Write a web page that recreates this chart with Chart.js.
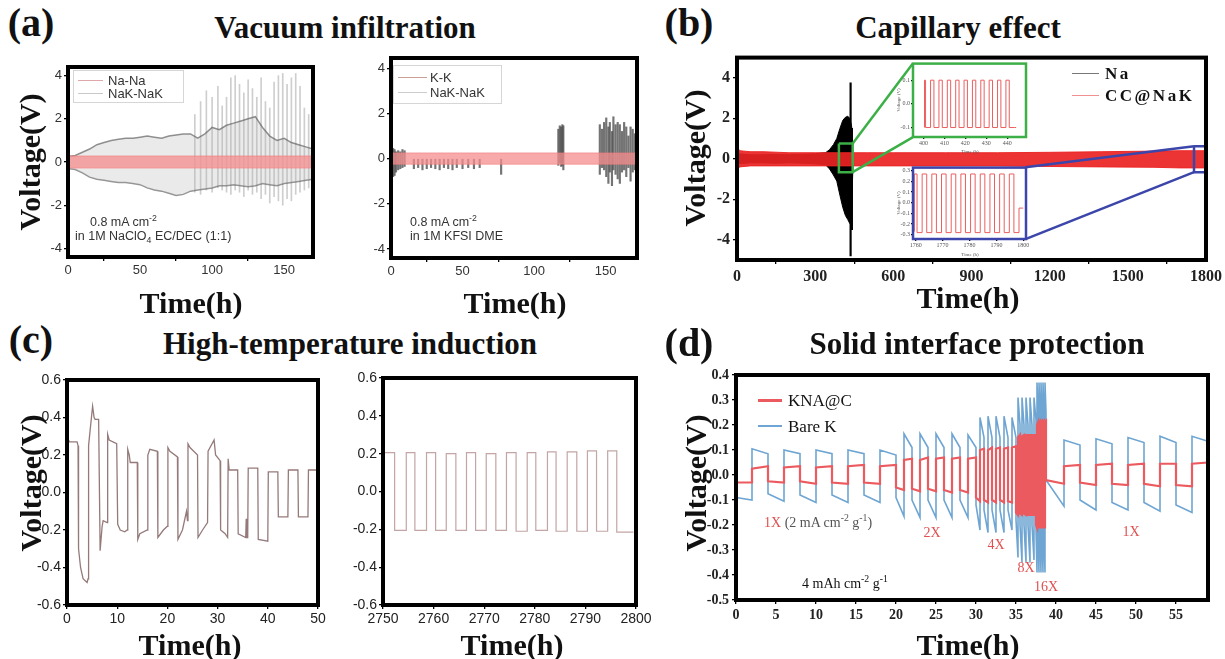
<!DOCTYPE html>
<html>
<head>
<meta charset="utf-8">
<title>Voltage profiles</title>
<script src="https://cdn.jsdelivr.net/npm/chart.js@4.4.1/dist/chart.umd.min.js"></script>
<style>
  body { margin:0; background:#fff; }
  #page { position:relative; width:1225px; height:659px; overflow:hidden; background:#fff;
          font-family:"Liberation Serif","Times New Roman",serif; color:#111; }
  canvas { position:absolute; }
  .t { position:absolute; white-space:nowrap; line-height:1; }
  .c { transform:translate(-50%,-50%); }
  .l { transform:translateY(-50%); }
  .rot { transform:translate(-50%,-50%) rotate(-90deg); }
  .panel { font-weight:bold; font-size:40px; }
  .head { font-weight:bold; font-size:31px; }
  .axt { font-weight:bold; font-size:30px; }
  .sans { font-family:"Liberation Sans",Arial,sans-serif; color:#333; }
  .box { position:absolute; border:1px solid #d6d6d6; }
  .ln { position:absolute; height:0; }
  .red { color:#e05050; }
  sup, sub { font-size:70%; line-height:0; }
</style>
</head>
<body>
<div id="page">
  <canvas id="ca1"></canvas>
  <canvas id="ca2"></canvas>
  <canvas id="cb"></canvas>
  <canvas id="cc1"></canvas>
  <canvas id="cc2"></canvas>
  <canvas id="cd"></canvas>
  <canvas id="cbg"></canvas>
  <canvas id="cbb"></canvas>

  <div class="t c panel" style="left:31px;top:23px">(a)</div>
  <div class="t c head" style="left:345px;top:27px">Vacuum infiltration</div>
  <div class="t c panel" style="left:689px;top:23px">(b)</div>
  <div class="t c head" style="left:958px;top:27px">Capillary effect</div>
  <div class="t c panel" style="left:31px;top:340px">(c)</div>
  <div class="t c head" style="left:350px;top:343px">High-temperature induction</div>
  <div class="t c panel" style="left:689px;top:343px">(d)</div>
  <div class="t c head" style="left:977px;top:343px">Solid interface protection</div>

  <div class="t rot axt" style="left:30px;top:162px">Voltage(V)</div>
  <div class="t rot axt" style="left:695px;top:158px">Voltage(V)</div>
  <div class="t rot axt" style="left:31px;top:483px">Voltage(V)</div>
  <div class="t rot axt" style="left:696px;top:483px">Voltage(V)</div>
  <div class="t c axt" style="left:191px;top:303px">Time(h)</div>
  <div class="t c axt" style="left:515px;top:303px">Time(h)</div>
  <div class="t c axt" style="left:968px;top:298px">Time(h)</div>
  <div class="t c axt" style="left:190px;top:645px">Time(h)</div>
  <div class="t c axt" style="left:512px;top:645px">Time(h)</div>
  <div class="t c axt" style="left:968px;top:645px">Time(h)</div>

  <!-- (a) legends and notes -->
  <div class="box" style="left:73px;top:70px;width:109px;height:31px"></div>
  <div class="ln" style="left:78px;top:80px;width:25px;border-top:1px solid #e0a8a8"></div>
  <div class="ln" style="left:78px;top:93px;width:25px;border-top:1px solid #c8c8c8"></div>
  <div class="t l sans" style="left:108px;top:80px;font-size:13px">Na-Na</div>
  <div class="t l sans" style="left:108px;top:93px;font-size:13px">NaK-NaK</div>
  <div class="t l sans" style="left:90px;top:222px;font-size:12.5px">0.8 mA cm<sup>-2</sup></div>
  <div class="t l sans" style="left:75px;top:236px;font-size:12.5px">in 1M NaClO<sub>4</sub> EC/DEC (1:1)</div>

  <div class="box" style="left:393px;top:65px;width:107px;height:37px"></div>
  <div class="ln" style="left:398px;top:77px;width:29px;border-top:1px solid #c8a098"></div>
  <div class="ln" style="left:398px;top:92px;width:29px;border-top:1px solid #cccccc"></div>
  <div class="t l sans" style="left:430px;top:77px;font-size:13px">K-K</div>
  <div class="t l sans" style="left:430px;top:92px;font-size:13px">NaK-NaK</div>
  <div class="t l sans" style="left:410px;top:222px;font-size:12.5px">0.8 mA cm<sup>-2</sup></div>
  <div class="t l sans" style="left:410px;top:236px;font-size:12.5px">in 1M KFSI DME</div>

  <!-- (b) legend and inset labels -->
  <div class="ln" style="left:1072px;top:73px;width:27px;border-top:1px solid #777"></div>
  <div class="ln" style="left:1072px;top:95px;width:27px;border-top:1px solid #f09090"></div>
  <div class="t l" style="left:1105px;top:73px;font-size:17px;font-weight:bold;letter-spacing:2.5px">Na</div>
  <div class="t l" style="left:1105px;top:95px;font-size:17px;font-weight:bold;letter-spacing:2.5px">CC@NaK</div>
  <div class="t rot" style="left:898px;top:100px;font-size:5px;color:#555">Voltage (V)</div>
  <div class="t c" style="left:970px;top:151px;font-size:5px;color:#555">Time (h)</div>
  <div class="t rot" style="left:898px;top:203px;font-size:5px;color:#555">Voltage (V)</div>
  <div class="t c" style="left:970px;top:254px;font-size:5px;color:#555">Time (h)</div>

  <!-- (d) legend and notes -->
  <div class="ln" style="left:758px;top:399px;width:24px;border-top:3px solid rgb(235,90,95)"></div>
  <div class="ln" style="left:758px;top:425px;width:24px;border-top:2px solid rgb(110,165,210)"></div>
  <div class="t l" style="left:788px;top:400px;font-size:17px">KNA@C</div>
  <div class="t l" style="left:788px;top:426px;font-size:17px">Bare K</div>
  <div class="t l" style="left:764px;top:523px;font-size:14px;color:#555"><span class="red">1X</span> (2 mA cm<sup>-2</sup> g<sup>-1</sup>)</div>
  <div class="t c red" style="left:932px;top:533px;font-size:14px">2X</div>
  <div class="t c red" style="left:996px;top:545px;font-size:14px">4X</div>
  <div class="t c red" style="left:1026px;top:568px;font-size:14px">8X</div>
  <div class="t c red" style="left:1046px;top:587px;font-size:14px">16X</div>
  <div class="t c red" style="left:1131px;top:532px;font-size:14px">1X</div>
  <div class="t l" style="left:802px;top:584px;font-size:14px">4 mAh cm<sup>-2</sup> g<sup>-1</sup></div>
</div>

<script>
// ---------- (a) vacuum infiltration ----------
const aTimes = [0,5,10,15,20,25,30,35,40,45,50,55,60,65,70,75,80,85,90,95,100,105,110,115,120,125,130,135,140,145,150,155,160,165,170];
const aNaUpper = [0.25,0.3,0.45,0.6,0.8,0.9,1.0,1.05,1.1,1.1,1.15,1.2,1.15,1.1,1.2,1.25,1.3,1.3,1.1,1.3,1.6,1.5,1.7,1.8,1.9,2.0,2.1,1.6,1.2,1.0,1.1,0.9,0.8,0.7,0.6];
const aNaLower = [-0.3,-0.35,-0.5,-0.7,-0.8,-0.85,-0.9,-0.95,-0.95,-1.0,-1.05,-1.2,-1.3,-1.35,-1.45,-1.55,-1.5,-1.35,-1.3,-1.25,-1.2,-1.1,-1.1,-1.05,-1.1,-1.15,-1.1,-1.0,-1.05,-1.1,-1.0,-0.95,-0.9,-0.85,-0.8];
const aNaSpikeT = [88,92,96,100,104,107,110,113,116,119,122,125,128,131,134,137,140,143,146,149,152,155,158,161,164,167];
const aNaSpikeHi = [2.2,2.8,3.3,3.0,3.5,2.6,3.0,3.9,4.0,3.6,3.2,3.8,3.4,3.0,3.9,2.8,2.5,3.7,4.0,4.1,3.6,3.9,4.1,3.5,2.5,2.2];
const aNaSpikeLo = [-1.4,-1.5,-1.3,-1.4,-1.2,-1.3,-1.4,-1.5,-1.3,-1.4,-1.6,-1.3,-1.5,-1.4,-1.7,-1.5,-1.9,-1.6,-1.8,-2.0,-1.7,-1.8,-1.5,-1.4,-1.3,-1.2];
const aNaKTimes = [0, 170];
const aNaKUpper = [0.28, 0.28];
const aNaKLower = [-0.28, -0.28];

const aKSpikeT = [0.5,1.5,2.5,3.5,5,6.5,8,9.5,16,19,22,25,28,31,34,37,40,43,46,50,54,58,62,77,117,118,119,119.8,120.5,146,147.5,149,150.5,152,153,154.5,155.5,157,158.5,160,161.5,163,164.5,166,167.5,169,170.5];
const aKSpikeHi = [0.3,0.45,0.4,0.3,0.35,0.3,0.4,0.35,0,0,0,0,0,0,0,0,0,0,0,0,0,0,0,0,1.3,1.45,1.4,1.5,1.45,1.5,1.3,1.6,1.8,1.4,1.6,1.2,1.85,1.5,1.6,1.5,1.2,1.6,1.4,1.0,1.4,1.3,1.1];
const aKSpikeLo = [-0.6,-0.8,-0.75,-0.6,-0.5,-0.45,-0.4,-0.35,-0.45,-0.4,-0.5,-0.45,-0.4,-0.45,-0.5,-0.4,-0.45,-0.5,-0.4,-0.45,-0.4,-0.45,-0.4,-0.7,-0.3,-0.2,-0.35,-0.3,-0.5,-0.7,-0.4,-0.5,-0.8,-1.1,-0.6,-1.2,-0.5,-0.7,-0.9,-1.1,-0.6,-0.5,-0.8,-0.4,-1.0,-0.6,-0.5];
const aKNaKTimes = [0, 172];
const aKNaKUpper = [0.25, 0.25];
const aKNaKLower = [-0.25, -0.25];

const aXTicks = [0, 50, 100, 150];
const aYTicks = [-4, -2, 0, 2, 4];

// ---------- (b) capillary effect ----------
const bNaTimes = [0,50,100,150,200,250,300,340,355,370,383,395,406,416,425,433,440,445];
const bNaUpper = [0.25,0.2,0.2,0.22,0.2,0.22,0.25,0.3,0.45,0.7,1.0,1.5,1.9,2.05,2.1,2.0,1.6,0.3];
const bNaLower = [-0.25,-0.2,-0.2,-0.22,-0.2,-0.22,-0.25,-0.3,-0.5,-0.8,-1.1,-1.8,-2.4,-2.8,-3.0,-3.2,-2.6,-0.3];
const bNaSpikeT = [436, 441];
const bNaSpikeHi = [3.75, 1.5];
const bNaSpikeLo = [-4.8, -3.5];
const bCCTimes = [0,10,50,100,200,300,400,500,600,800,1000,1200,1400,1600,1700,1800];
const bCCUpper = [0.6,0.4,0.35,0.35,0.3,0.3,0.3,0.3,0.3,0.3,0.3,0.32,0.35,0.38,0.4,0.4];
const bCCLower = [-0.55,-0.4,-0.35,-0.35,-0.35,-0.35,-0.35,-0.35,-0.35,-0.35,-0.35,-0.38,-0.4,-0.42,-0.45,-0.45];
// zoom boxes and guide lines, in data units of the main plot
const bGreenRect = [[391,0.76],[444,0.76],[444,-0.66],[391,-0.66],[391,0.76]];
const bGreenLinkA = [[444,0.76],[674,4.7]];
const bGreenLinkB = [[444,-0.66],[674,1.06]];
const bBlueRect = [[1754,0.62],[1797,0.62],[1797,-0.66],[1754,-0.66],[1754,0.62]];
const bBlueLinkA = [[1754,0.62],[1107,-0.42]];
const bBlueLinkB = [[1754,-0.66],[1107,-3.97]];
// insets
const bGreenT = [400.5,401,403.4,405,407.4,409,411.4,413,415.4,417,419.4,421,423.4,425,427.4,429,431.4,433,435.4,437,439.4,441,443.4,444.3];
const bGreenV = [-0.1,0.1,-0.1,0.1,-0.1,0.1,-0.1,0.1,-0.1,0.1,-0.1,0.1,-0.1,0.1,-0.1,0.1,-0.1,0.1,-0.1,0.1,-0.1,0.1,-0.1,-0.1];
const bBlueT = [1759.5,1760.5,1762.4,1764.1,1766.0,1767.7,1769.6,1771.3,1773.2,1774.9,1776.8,1778.5,1780.4,1782.1,1784.0,1785.7,1787.6,1789.3,1791.2,1792.9,1794.8,1796.5,1798.4,1799.6,1800];
const bBlueV = [-0.27,0.27,-0.28,0.27,-0.28,0.27,-0.28,0.27,-0.28,0.27,-0.28,0.27,-0.28,0.27,-0.28,0.27,-0.28,0.27,-0.28,0.27,-0.28,0.27,-0.28,-0.05,-0.05];

const bXTicks = [0, 300, 600, 900, 1200, 1500, 1800];
const bYTicks = [-4, -2, 0, 2, 4];
const bGreenXTicks = [400, 410, 420, 430, 440];
const bGreenYTicks = [-0.1, 0, 0.1];
const bBlueXTicks = [1760, 1770, 1780, 1790, 1800];
const bBlueYTicks = [-0.3, -0.2, -0.1, 0, 0.1, 0.2, 0.3];

// ---------- (c) high-temperature induction ----------
const cLeftT = [0,0.3,0.5,2.0,2.2,2.3,2.7,3.2,4.0,4.2,4.3,4.6,5.1,5.4,5.6,6.3,6.6,7.0,7.2,8.0,8.1,8.4,9.9,10.1,10.6,11.5,12.0,12.1,12.4,12.6,14.0,14.1,14.5,16.0,16.1,16.5,18.0,18.1,19.2,20.0,20.1,20.5,22.0,22.1,23.0,23.8,24.0,24.1,24.5,26.0,26.1,27.0,28.0,28.1,29.3,29.6,30.5,30.6,31.5,32.0,32.1,32.3,34.0,34.1,35.6,35.7,35.8,36.0,36.1,38.0,38.1,40.0,40.1,42.0,42.1,44.0,44.1,46.0,46.1,48.0,48.1,49.6];
const cLeftV = [0.35,0.28,0.27,0.27,0.25,-0.3,-0.4,-0.46,-0.48,-0.46,0.25,0.33,0.46,0.4,0.39,0.39,-0.31,-0.18,-0.15,-0.16,0.31,0.28,0.26,-0.17,-0.2,-0.21,-0.2,0.23,0.2,0.16,0.16,-0.25,-0.22,-0.2,0.2,0.23,0.22,-0.24,-0.2,-0.18,0.24,0.22,0.19,-0.25,-0.2,-0.1,-0.15,0.26,0.24,0.2,-0.24,-0.2,-0.16,0.22,0.28,0.2,0.17,-0.2,-0.22,-0.24,0.18,0.12,0.12,-0.22,-0.24,-0.14,-0.24,-0.24,0.13,0.13,-0.25,-0.26,0.11,0.11,-0.13,-0.13,0.12,0.12,-0.13,-0.13,0.12,0.12];
const cRightT = [2750,2752.3,2754.6,2756.3,2758.6,2760.4,2762.5,2764.4,2766.5,2768.3,2770.4,2772.3,2774.4,2776.3,2778.5,2780.2,2782.5,2784.2,2786.4,2788.3,2790.4,2792.2,2794.4,2796.2,2798.2,2799.5];
const cRightV = [-0.205,0.205,-0.205,0.205,-0.205,0.205,-0.205,0.2,-0.205,0.205,-0.205,0.2,-0.205,0.205,-0.21,0.205,-0.205,0.21,-0.21,0.21,-0.21,0.215,-0.21,0.215,-0.215,-0.215];
const cLeftXTicks = [0, 10, 20, 30, 40, 50];
const cRightXTicks = [2750, 2760, 2770, 2780, 2790, 2800];
const cYTicks = [-0.6, -0.4, -0.2, 0, 0.2, 0.4, 0.6];

// ---------- (d) solid interface protection ----------
// half-cycle boundaries: 1X, 2X, 4X, 8X, 16X, then 1X again
const dBounds = [0,2,4,6,8,10,12,14,16,18,20, 21,22,23,24,25,26,27,28,29,30,
  30.5,31,31.5,32,32.5,33,33.5,34,34.5,35, 35.25,35.5,35.75,36,36.25,36.5,36.75,37,37.25,37.5,
  37.625,37.75,37.875,38,38.125,38.25,38.375,38.5,38.625,38.75, 41,43,45,47,49,51,53,55,57,59];
const dRedStart = [-0.03,0.025,-0.025,0.03,-0.025,0.03,-0.03,0.035,-0.03,0.035,
  -0.05,0.06,-0.055,0.06,-0.055,0.065,-0.06,0.065,-0.06,0.065,
  -0.09,0.1,-0.1,0.1,-0.1,0.105,-0.1,0.105,-0.105,0.11,
  -0.15,0.15,-0.155,0.155,-0.155,0.16,-0.16,0.16,-0.16,0.16,
  -0.2,0.2,-0.21,0.21,-0.21,0.21,-0.21,0.21,-0.21,0.21,
  -0.02,0.035,-0.03,0.04,-0.035,0.04,-0.035,0.045,-0.04,0.045];
const dRedEnd = [-0.03,0.035,-0.03,0.035,-0.035,0.035,-0.035,0.04,-0.035,0.04,
  -0.06,0.065,-0.065,0.07,-0.065,0.07,-0.07,0.07,-0.07,0.07,
  -0.105,0.105,-0.11,0.11,-0.11,0.11,-0.11,0.11,-0.11,0.115,
  -0.16,0.16,-0.16,0.16,-0.16,0.16,-0.16,0.16,-0.16,0.16,
  -0.21,0.21,-0.21,0.215,-0.21,0.215,-0.21,0.215,-0.21,0.215,
  -0.035,0.04,-0.04,0.045,-0.04,0.045,-0.045,0.045,-0.045,0.05];
const dBlueStart = [-0.09,0.105,-0.075,0.1,-0.08,0.1,-0.08,0.1,-0.08,0.1,
  -0.09,0.165,-0.1,0.165,-0.1,0.165,-0.1,0.165,-0.1,0.16,
  -0.12,0.23,-0.14,0.235,-0.14,0.235,-0.14,0.235,-0.14,0.23,
  -0.18,0.31,-0.2,0.31,-0.2,0.31,-0.2,0.31,-0.2,0.31,
  -0.22,0.37,-0.25,0.37,-0.25,0.37,-0.25,0.37,-0.25,0.37,
  -0.02,0.14,-0.1,0.145,-0.11,0.15,-0.11,0.155,-0.12,0.155];
const dBlueEnd = [-0.1,0.085,-0.105,0.085,-0.11,0.085,-0.11,0.085,-0.11,0.08,
  -0.165,0.11,-0.17,0.11,-0.17,0.11,-0.17,0.11,-0.17,0.11,
  -0.22,0.15,-0.23,0.15,-0.23,0.15,-0.23,0.15,-0.22,0.15,
  -0.33,0.2,-0.35,0.2,-0.35,0.2,-0.35,0.2,-0.34,0.22,
  -0.39,0.25,-0.39,0.25,-0.39,0.25,-0.39,0.25,-0.39,0.25,
  -0.125,0.12,-0.14,0.125,-0.14,0.13,-0.145,0.13,-0.15,0.135];
const dXTicks = [0,5,10,15,20,25,30,35,40,45,50,55];
const dYTicks = [-0.5,-0.4,-0.3,-0.2,-0.1,0,0.1,0.2,0.3,0.4];

// ---------- helpers ----------
function pts(xs, ys) { return xs.map((x, i) => ({ x: x, y: ys[i] })); }
function pairs(list) { return list.map(p => ({ x: p[0], y: p[1] })); }
function spikes(xs, lo, hi) { return xs.map((x, i) => ({ x: x, y: [lo[i], hi[i]] })); }
function halves(bounds, start, end) {
  let out = [];
  start.forEach((v, i) => {
    out.push({ x: bounds[i], y: v });
    out.push({ x: bounds[i + 1], y: end[i] });
  });
  return out;
}
function band(xs, up, lo, fillColor, lineColor, lw) {
  return [
    { data: pts(xs, up), fill: '+1', backgroundColor: fillColor, borderColor: lineColor, borderWidth: lw },
    { data: pts(xs, lo), fill: false, borderColor: lineColor, borderWidth: lw }
  ];
}
function trace(data, color, lw, stepped) {
  return { data: data, borderColor: color, borderWidth: lw, fill: false, stepped: stepped || false };
}
function bars(data, color, w) {
  return { type: 'bar', data: data, backgroundColor: color, barThickness: w, grouped: false };
}

const frame = {
  id: 'frame',
  afterDatasetsDraw(chart, args, opts) {
    const a = chart.chartArea, ctx = chart.ctx;
    ctx.save();
    ctx.lineWidth = opts.width;
    ctx.strokeStyle = opts.color;
    ctx.strokeRect(a.left, a.top, a.right - a.left, a.bottom - a.top);
    ctx.restore();
  }
};

function axis(min, max, ticks, st, fmt, fit) {
  return {
    type: 'linear', min: min, max: max, offset: false,
    afterBuildTicks: s => { s.ticks = ticks.map(v => ({ value: v })); },
    afterFit: fit,
    grid: { drawOnChartArea: false, tickLength: st.tick, color: '#000', lineWidth: 1.3 },
    border: { display: false },
    ticks: { autoSkip: false, maxRotation: 0, padding: st.pad, color: st.color, font: st.font, callback: fmt }
  };
}

// box = plot area [left, top, right, bottom] in page pixels
function makeChart(id, box, yw, xh, padTop, padRight, datasets, sc) {
  const cv = document.getElementById(id);
  const w = box[2] - box[0] + yw + padRight;
  const h = box[3] - box[1] + padTop + xh;
  cv.width = w; cv.height = h;
  cv.style.left = (box[0] - yw) + 'px';
  cv.style.top = (box[1] - padTop) + 'px';
  return new Chart(cv, {
    type: 'line',
    data: { datasets: datasets },
    options: {
      responsive: false, animation: false, events: [],
      layout: { padding: { top: padTop, right: padRight, left: 0, bottom: 0 } },
      plugins: { legend: { display: false }, tooltip: { enabled: false },
                 frame: { width: sc.frameW, color: sc.frameColor } },
      elements: { point: { radius: 0 }, line: { tension: 0 } },
      scales: {
        x: axis(sc.x[0], sc.x[1], sc.xTicks, sc, sc.xFmt, s => { s.height = xh; }),
        y: axis(sc.y[0], sc.y[1], sc.yTicks, sc, sc.yFmt, s => { s.width = yw; })
      }
    },
    plugins: [frame]
  });
}

const sansTicks = { font: { family: 'Liberation Sans', size: 13 }, color: '#333', tick: 4, pad: 2, frameW: 4, frameColor: '#000' };
const serifTicks = { font: { family: 'Liberation Serif', size: 16, weight: 'bold' }, color: '#222', tick: 4, pad: 3, frameW: 4, frameColor: '#000' };
const intFmt = v => String(v);
const oneDec = v => Number(v).toFixed(1);

// (a) left
makeChart('ca1', [68, 67, 313, 257], 28, 30, 12, 20, [
  ...band(aNaKTimes, aNaKUpper, aNaKLower, 'rgba(245,140,140,0.75)', 'rgba(240,120,120,0.6)', 1),
  ...band(aTimes, aNaUpper, aNaLower, 'rgba(180,180,180,0.28)', 'rgba(100,100,100,0.7)', 1.5),
  bars(spikes(aNaSpikeT, aNaSpikeLo, aNaSpikeHi), 'rgba(165,165,165,0.55)', 1)
], Object.assign({ x: [0, 170], y: [-4.4, 4.4], xTicks: aXTicks, yTicks: aYTicks, xFmt: intFmt, yFmt: intFmt }, sansTicks));

// (a) right
makeChart('ca2', [391, 58, 637, 258], 28, 30, 12, 20, [
  ...band(aKNaKTimes, aKNaKUpper, aKNaKLower, 'rgba(245,140,140,0.75)', 'rgba(240,120,120,0.6)', 1),
  bars(spikes(aKSpikeT, aKSpikeLo, aKSpikeHi), 'rgba(70,70,70,0.75)', 1.5)
], Object.assign({ x: [0, 172], y: [-4.4, 4.45], xTicks: aXTicks, yTicks: aYTicks, xFmt: intFmt, yFmt: intFmt }, sansTicks));

// (b) main
const green = 'rgb(60,175,70)', blue = 'rgb(60,70,170)';
makeChart('cb', [737, 57, 1207, 260], 30, 32, 12, 18, [
  trace(pairs(bGreenRect), green, 2.5),
  trace(pairs(bGreenLinkA), green, 2.5),
  trace(pairs(bGreenLinkB), green, 2.5),
  trace(pairs(bBlueRect), blue, 2.5),
  trace(pairs(bBlueLinkA), blue, 2.5),
  trace(pairs(bBlueLinkB), blue, 2.5),
  ...band(bCCTimes, bCCUpper, bCCLower, 'rgba(235,35,35,0.92)', 'rgba(235,35,35,0.92)', 1),
  bars(spikes(bNaSpikeT, bNaSpikeLo, bNaSpikeHi), '#000', 1.5),
  ...band(bNaTimes, bNaUpper, bNaLower, '#000', '#000', 1)
], Object.assign({ x: [0, 1800], y: [-5, 5], xTicks: bXTicks, yTicks: bYTicks, xFmt: intFmt, yFmt: intFmt }, serifTicks));

// (b) insets
const insetTicks = { font: { family: 'Liberation Serif', size: 6 }, color: '#555', tick: 2, pad: 1 };
makeChart('cbg', [913, 63, 1026, 137], 14, 11, 4, 8, [
  trace(pts(bGreenT, bGreenV), 'rgb(235,95,95)', 1, 'after')
], Object.assign({ x: [395, 449], y: [-0.14, 0.17], xTicks: bGreenXTicks, yTicks: bGreenYTicks, xFmt: intFmt, yFmt: oneDec, frameW: 2.5, frameColor: green }, insetTicks));
makeChart('cbb', [913, 167, 1026, 239], 14, 11, 4, 8, [
  trace(pts(bBlueT, bBlueV), 'rgb(235,95,95)', 1, 'after')
], Object.assign({ x: [1759, 1801], y: [-0.34, 0.33], xTicks: bBlueXTicks, yTicks: bBlueYTicks, xFmt: intFmt, yFmt: oneDec, frameW: 2.5, frameColor: blue }, insetTicks));

// (c)
const cTicks = Object.assign({}, sansTicks, { font: { family: 'Liberation Sans', size: 14 }, color: '#222' });
makeChart('cc1', [67, 380, 318, 605], 40, 30, 12, 20, [
  trace(pts(cLeftT, cLeftV), 'rgb(150,122,122)', 1.3)
], Object.assign({ x: [0, 50], y: [-0.6, 0.6], xTicks: cLeftXTicks, yTicks: cYTicks, xFmt: intFmt, yFmt: oneDec }, cTicks));
makeChart('cc2', [383, 378, 636, 605], 40, 30, 12, 22, [
  trace(pts(cRightT, cRightV), 'rgb(195,165,165)', 1.2, 'after')
], Object.assign({ x: [2750, 2800], y: [-0.6, 0.6], xTicks: cRightXTicks, yTicks: cYTicks, xFmt: intFmt, yFmt: oneDec }, cTicks));

// (d)
const dTicks = Object.assign({}, serifTicks, { font: { family: 'Liberation Serif', size: 14, weight: 'bold' } });
makeChart('cd', [736, 375, 1208, 600], 32, 30, 12, 17, [
  trace(halves(dBounds, dRedStart, dRedEnd), 'rgb(235,90,95)', 2.2),
  trace(halves(dBounds, dBlueStart, dBlueEnd), 'rgb(110,165,210)', 1.6)
], Object.assign({ x: [0, 59], y: [-0.5, 0.4], xTicks: dXTicks, yTicks: dYTicks, xFmt: intFmt, yFmt: oneDec }, dTicks));
</script>
</body>
</html>
